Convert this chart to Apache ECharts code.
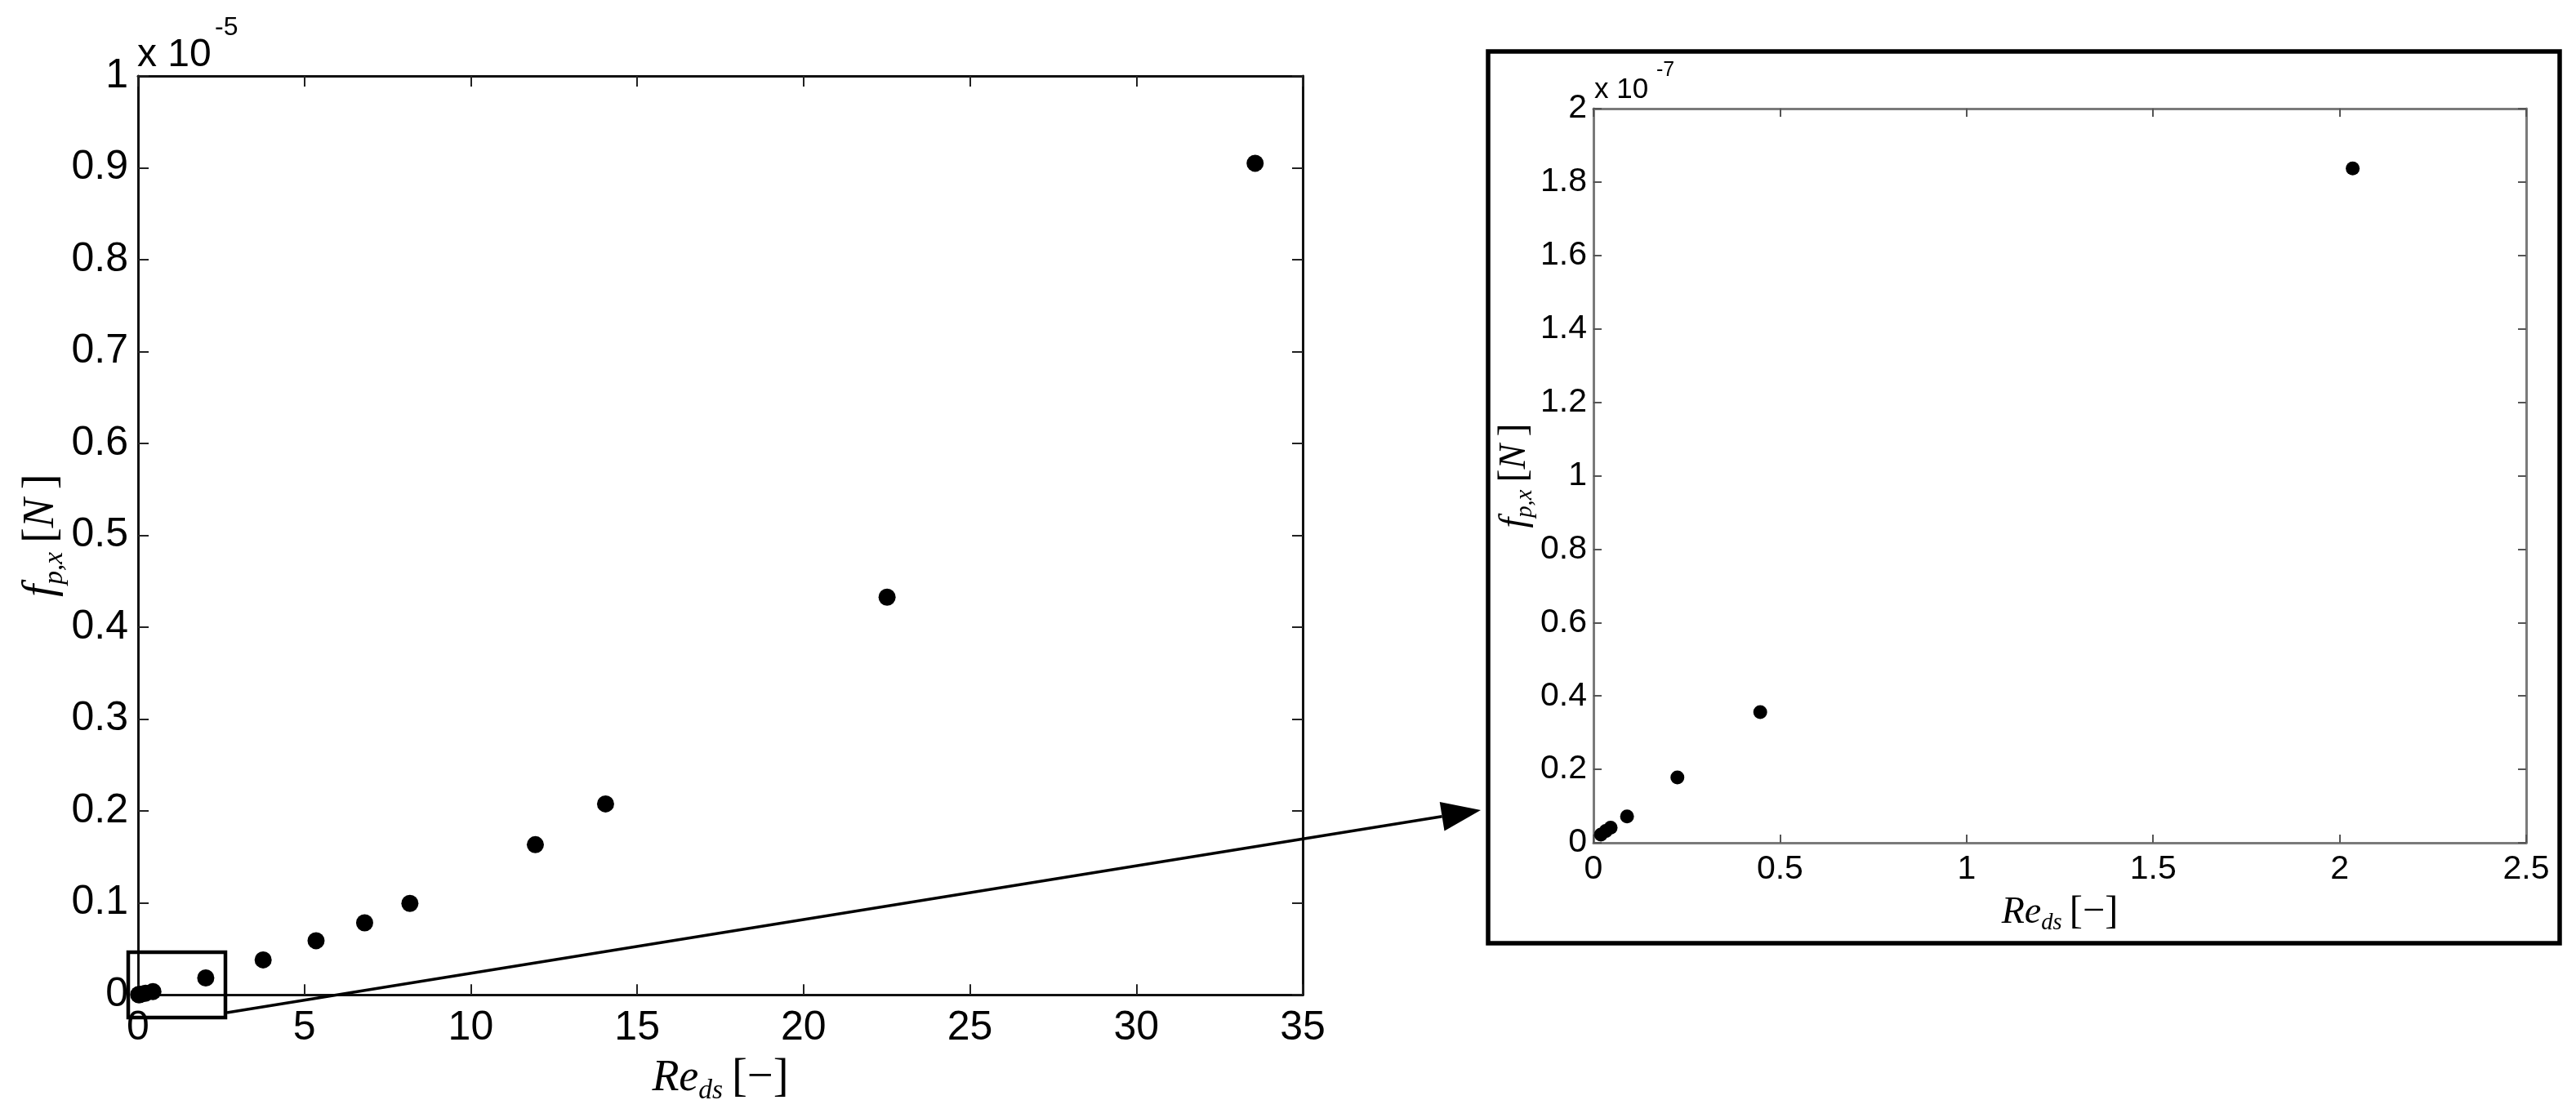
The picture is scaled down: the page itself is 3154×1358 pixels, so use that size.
<!DOCTYPE html>
<html>
<head>
<meta charset="utf-8">
<script src="https://cdn.jsdelivr.net/npm/echarts@6/dist/echarts.min.js"></script>
<style>
  html, body { margin: 0; padding: 0; background: #fff; }
  #chart { width: 3154px; height: 1358px; }
</style>
</head>
<body>
<div id="chart"></div>
<script>
// 测量数据：Re_ds [-] 与 f_p,x [N]
const reDs = [0.02, 0.033, 0.046, 0.09, 0.225, 0.447, 2.035, 3.76, 5.35, 6.81, 8.17, 11.94, 14.05, 22.51, 33.57]
const fpx = [2.2e-9, 3.2e-9, 4.1e-9, 7.2e-9, 1.78e-8, 3.56e-8, 1.837e-7, 3.8e-7, 5.89e-7, 7.84e-7, 9.95e-7, 1.634e-6, 2.078e-6, 4.328e-6, 9.05e-6]

// 坐标轴范围 [min, max, interval]
const mainX = [0, 35, 5]
const mainY = [0, 1, 0.1]
const zoomX = [0, 2.5, 0.5]
const zoomY = [0, 2, 0.2]
const mainExp = -5
const zoomExp = -7

const mainPts = reDs.map((x, i) => [x, fpx[i] / Math.pow(10, mainExp)])
const zoomPts = reDs.map((x, i) => [x, fpx[i] / Math.pow(10, zoomExp)]).filter(p => p[0] <= zoomX[1])

const sans = 'Liberation Sans'
const serif = 'Liberation Serif'
const fmt = v => String(Math.round(v * 10) / 10)

function richName (size) {
  return {
    it: { fontFamily: serif, fontStyle: 'italic', fontSize: size, color: '#000', lineHeight: size * 1.2, verticalAlign: 'middle' },
    sub: { fontFamily: serif, fontStyle: 'italic', fontSize: size * 0.62, color: '#000', lineHeight: size * 1.2, verticalAlign: 'bottom' },
    rm: { fontFamily: serif, fontSize: size * 1.05, color: '#000', lineHeight: size * 1.2, verticalAlign: 'middle', padding: [0, 0, 0, size * 0.2] }
  }
}

function axis (kind, grid, range, pos, s) {
  const mirror = pos === 'top' || pos === 'right'
  const a = {
    type: 'value', gridIndex: grid, position: pos,
    min: range[0], max: range[1], interval: range[2],
    axisLine: { onZero: false, lineStyle: { color: s.line, width: s.lw } },
    axisTick: { inside: true, length: s.tick, lineStyle: { color: s.tickColor, width: 2 } },
    axisLabel: { show: !mirror, fontFamily: sans, fontSize: s.font, color: '#000', margin: s.margin[kind], formatter: fmt },
    splitLine: { show: false }
  }
  if (!mirror) {
    a.name = kind === 'x' ? '{it|Re}{sub|ds}{rm|[−]}' : '{it|f}{sub|p,x}{rm|[}{it|N}{rm|]}'
    a.nameLocation = 'middle'
    a.nameGap = s.gap[kind]
    a.nameTextStyle = { rich: richName(s.nameFont) }
  }
  return a
}

const mainStyle = { line: '#111', lw: 3, tick: 13, tickColor: '#222', font: 50, margin: { x: 16, y: 12 }, gap: { x: 70, y: 80 }, nameFont: 54 }
const zoomStyle = { line: '#7a7a7a', lw: 3, tick: 10, tickColor: '#555', font: 41, margin: { x: 12, y: 8 }, gap: { x: 58, y: 14 }, nameFont: 46 }

const chart = echarts.init(document.getElementById('chart'))

// 放大框与箭头
const tip = [1813, 992], tail = [278, 1240]
const dx = tip[0] - tail[0], dy = tip[1] - tail[1], dl = Math.hypot(dx, dy)
const ux = dx / dl, uy = dy / dl
const hl = 48, hw = 18
const base = [tip[0] - ux * hl, tip[1] - uy * hl]

chart.setOption({
  animation: false,
  backgroundColor: '#fff',
  grid: [
    { left: 169, top: 93, width: 1426, height: 1126 },
    { left: 1951, top: 133, width: 1142, height: 899 }
  ],
  xAxis: [
    axis('x', 0, mainX, 'bottom', mainStyle),
    axis('x', 0, mainX, 'top', mainStyle),
    axis('x', 1, zoomX, 'bottom', zoomStyle),
    axis('x', 1, zoomX, 'top', zoomStyle)
  ],
  yAxis: [
    axis('y', 0, mainY, 'left', mainStyle),
    axis('y', 0, mainY, 'right', mainStyle),
    axis('y', 1, zoomY, 'left', zoomStyle),
    axis('y', 1, zoomY, 'right', zoomStyle)
  ],
  series: [
    { type: 'scatter', xAxisIndex: 0, yAxisIndex: 0, data: mainPts, symbol: 'circle', symbolSize: 21, itemStyle: { color: '#000', opacity: 1 } },
    { type: 'scatter', xAxisIndex: 2, yAxisIndex: 2, data: zoomPts, symbol: 'circle', symbolSize: 17, itemStyle: { color: '#000', opacity: 1 } }
  ],
  graphic: [
    { type: 'text', x: 168, y: 68, style: { text: 'x 10', font: '48px "Liberation Sans"', fill: '#000', verticalAlign: 'middle' } },
    { type: 'text', x: 263, y: 34, style: { text: String(mainExp), font: '32px "Liberation Sans"', fill: '#000', verticalAlign: 'middle' } },
    { type: 'text', x: 1952, y: 110, style: { text: 'x 10', font: '35px "Liberation Sans"', fill: '#000', verticalAlign: 'middle' } },
    { type: 'text', x: 2028, y: 86, style: { text: String(zoomExp), font: '25px "Liberation Sans"', fill: '#000', verticalAlign: 'middle' } },
    { type: 'rect', z: 100, shape: { x: 157, y: 1166, width: 119, height: 80 }, style: { fill: null, stroke: '#000', lineWidth: 4.5 } },
    { type: 'rect', z: 100, shape: { x: 1822, y: 63, width: 1312, height: 1092 }, style: { fill: null, stroke: '#000', lineWidth: 5.5 } },
    { type: 'line', z: 100, shape: { x1: tail[0], y1: tail[1], x2: base[0], y2: base[1] }, style: { stroke: '#000', lineWidth: 3.5 } },
    { type: 'polygon', z: 100, shape: { points: [tip, [base[0] - uy * hw, base[1] + ux * hw], [base[0] + uy * hw, base[1] - ux * hw]] }, style: { fill: '#000' } }
  ]
})
</script>
</body>
</html>
